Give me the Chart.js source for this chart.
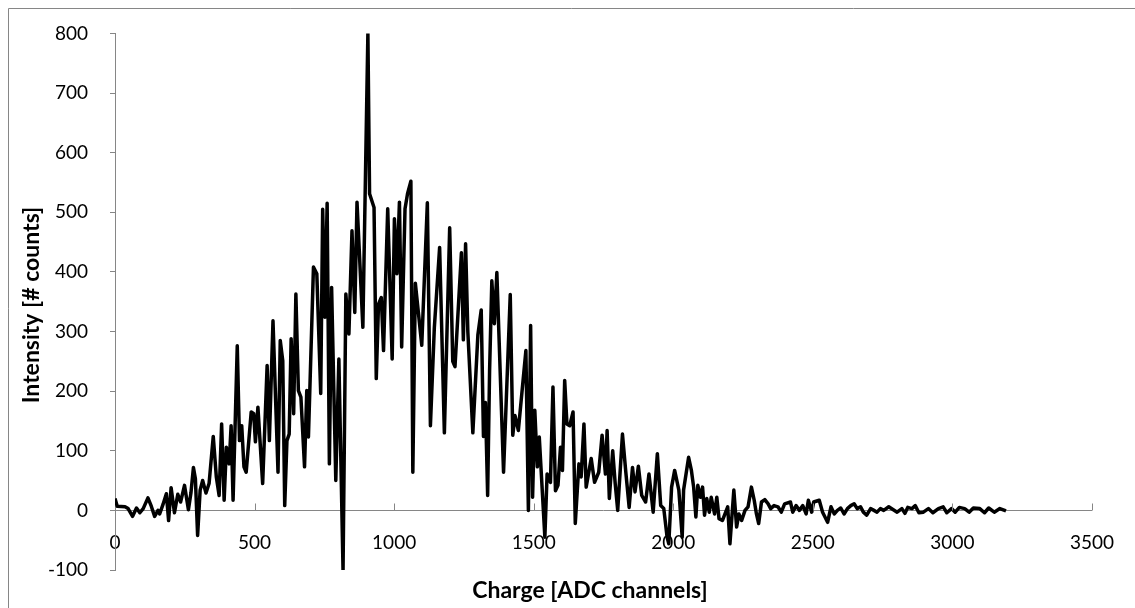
<!DOCTYPE html>
<html>
<head>
<meta charset="utf-8">
<script src="https://cdn.jsdelivr.net/npm/chart.js@4/dist/chart.umd.min.js"></script>
<style>
  html, body { margin: 0; padding: 0; background: #fff; }
  #wrap { width: 1135px; height: 608px; }
</style>
</head>
<body>
<div id="wrap"><canvas id="spectrum" width="1135" height="608"></canvas></div>
<script>
// charge spectrum (ADC channel, counts)
const charge = [
  0, 8, 36, 47, 63, 77, 89, 101, 118, 130, 142, 154, 160, 172, 184, 192, 201, 213, 225, 235,
  249, 263, 272, 281, 288, 296, 305, 314, 326, 337, 352, 363, 373, 382, 391, 399, 409, 416, 423, 438,
  446, 454, 462, 470, 488, 497, 503, 512, 529, 545, 553, 566, 584, 592, 601, 608, 616, 624, 631, 640,
  648, 657, 666, 679, 687, 693, 711, 723, 737, 744, 752, 760, 768, 776, 791, 802, 817, 827, 838, 849,
  859, 867, 888, 906, 912, 928, 936, 944, 954, 962, 977, 993, 1001, 1010, 1019, 1027, 1039, 1048, 1060, 1067,
  1076, 1099, 1119, 1130, 1144, 1163, 1180, 1199, 1210, 1218, 1241, 1248, 1256, 1264, 1282, 1300, 1312, 1320, 1327, 1335,
  1342, 1350, 1359, 1368, 1392, 1416, 1425, 1433, 1445, 1472, 1481, 1489, 1496, 1504, 1513, 1520, 1540, 1548, 1560, 1569,
  1578, 1587, 1596, 1603, 1611, 1619, 1629, 1641, 1649, 1662, 1670, 1680, 1688, 1706, 1718, 1733, 1745, 1757, 1763, 1771,
  1783, 1792, 1801, 1818, 1830, 1842, 1854, 1863, 1875, 1887, 1901, 1913, 1928, 1943, 1955, 1966, 1978, 1984, 1994, 2005,
  2020, 2032, 2037, 2055, 2065, 2073, 2081, 2088, 2097, 2105, 2112, 2120, 2129, 2136, 2148, 2156, 2164, 2176, 2195, 2203,
  2217, 2227, 2235, 2245, 2257, 2268, 2280, 2290, 2298, 2306, 2316, 2328, 2340, 2349, 2361, 2375, 2387, 2399, 2420, 2428,
  2440, 2452, 2464, 2476, 2484, 2496, 2503, 2523, 2535, 2553, 2565, 2577, 2588, 2600, 2612, 2624, 2636, 2648, 2659, 2671,
  2681, 2693, 2707, 2719, 2730, 2742, 2754, 2772, 2802, 2819, 2830, 2840, 2855, 2867, 2880, 2896, 2914, 2930, 2950, 2967,
  2980, 2997, 3010, 3025, 3044, 3060, 3075, 3098, 3115, 3130, 3150, 3170, 3192
];
const counts = [
  20, 7, 6, 3, -10, 4, -4, 3, 21, 7, -10, 0, -6, 10, 28, -17, 38, -4, 27, 14,
  42, 1, 29, 72, 53, -42, 34, 50, 29, 45, 124, 56, 25, 145, 17, 106, 78, 142, 17, 276,
  117, 142, 73, 64, 165, 162, 115, 173, 45, 243, 117, 318, 64, 285, 251, 8, 117, 128, 288, 162,
  363, 201, 190, 73, 201, 123, 408, 397, 196, 505, 324, 515, 78, 374, 50, 254, -100, 363, 296, 469,
  332, 517, 307, 800, 531, 508, 221, 346, 357, 268, 506, 254, 489, 397, 517, 274, 506, 531, 552, 64,
  381, 277, 516, 142, 306, 441, 130, 474, 250, 241, 432, 286, 447, 300, 130, 294, 336, 124, 181, 25,
  235, 385, 313, 399, 64, 362, 126, 159, 134, 268, 0, 310, 22, 168, 73, 123, -45, 61, 47, 207,
  33, 42, 106, 67, 218, 145, 142, 165, -22, 78, 56, 145, 39, 87, 47, 64, 126, 61, 134, 20,
  100, 45, 0, 128, 64, 5, 72, 31, 74, 25, 14, 61, -3, 95, 8, 3, -45, -56, 39, 67,
  34, -45, 34, 89, 67, 39, -11, 42, 22, 39, -8, 20, -3, 22, -6, 22, -14, -17, 6, -56,
  34, -28, -6, -17, 0, 6, 39, 17, -6, -22, 14, 18, 11, 3, 8, 6, -3, 11, 14, -3,
  8, 0, 8, -6, 17, -3, 14, 17, -3, -20, 6, -6, 0, 4, -6, 3, 8, 11, 3, 6,
  -3, -8, 3, 0, -3, 3, 0, 6, -3, 3, -5, 5, 3, 8, -4, -3, 3, -4, 3, 6,
  -4, 3, -3, 5, 3, -3, 4, 3, -4, 4, -3, 3, -1
];
const xTicks = [0, 500, 1000, 1500, 2000, 2500, 3000, 3500];
const yTicks = [-100, 0, 100, 200, 300, 400, 500, 600, 700, 800];

const axisGray = '#868686';
const font = 'Lato, "Liberation Sans", sans-serif';

// Excel-like frame, inward x tick marks and the two axis titles
const decor = {
  id: 'decor',
  afterDraw(chart) {
    const {ctx, scales: {x, y}} = chart;
    ctx.save();
    ctx.strokeStyle = axisGray;
    ctx.lineWidth = 1;
    ctx.beginPath();
    ctx.moveTo(8.5, 608);
    ctx.lineTo(8.5, 8.5);
    ctx.lineTo(1135, 8.5);
    ctx.stroke();

    const y0 = Math.round(y.getPixelForValue(0)) + 0.5;
    ctx.beginPath();
    xTicks.forEach(v => {
      if (v === 0) return;
      const px = Math.round(x.getPixelForValue(v)) + 0.5;
      ctx.moveTo(px, y0);
      ctx.lineTo(px, y0 - 7);
    });
    ctx.stroke();

    ctx.fillStyle = '#000';
    ctx.font = 'bold 23px ' + font;
    ctx.textAlign = 'center';
    ctx.textBaseline = 'middle';
    ctx.fillText('Charge [ADC channels]', 590, 591);
    ctx.translate(32, 305);
    ctx.rotate(-Math.PI / 2);
    ctx.fillText('Intensity [# counts]', 0, 0);
    ctx.restore();
  }
};

new Chart(document.getElementById('spectrum'), {
  type: 'line',
  data: {
    datasets: [{
      data: charge.map((c, i) => ({x: c, y: counts[i]})),
      borderColor: '#000',
      borderWidth: 3.5,
      pointRadius: 0,
      tension: 0,
      borderJoinStyle: 'round',
      fill: false
    }]
  },
  options: {
    responsive: false,
    animation: false,
    layout: {padding: {left: 0, top: 33, right: 35, bottom: 38}},
    plugins: {legend: {display: false}, tooltip: {enabled: false}},
    scales: {
      x: {
        type: 'linear',
        position: {y: 0},
        min: 0,
        max: 3500,
        afterFit: s => { s.height = 0; },
        afterBuildTicks: s => { s.ticks = xTicks.map(v => ({value: v})); },
        grid: {display: false, drawTicks: false},
        border: {display: true, color: axisGray, width: 1},
        ticks: {
          autoSkip: false,
          maxRotation: 0,
          padding: 21,
          color: '#000',
          font: {family: font, size: 19},
          callback: v => String(v)
        }
      },
      y: {
        min: -100,
        max: 800,
        afterFit: s => { s.width = 115; },
        afterBuildTicks: s => { s.ticks = yTicks.map(v => ({value: v})); },
        grid: {drawOnChartArea: false, drawTicks: true, tickLength: 5, color: axisGray},
        border: {display: true, color: axisGray, width: 1},
        ticks: {
          padding: 22,
          color: '#000',
          font: {family: font, size: 19},
          callback: v => String(v)
        }
      }
    }
  },
  plugins: [decor]
});
</script>
</body>
</html>
